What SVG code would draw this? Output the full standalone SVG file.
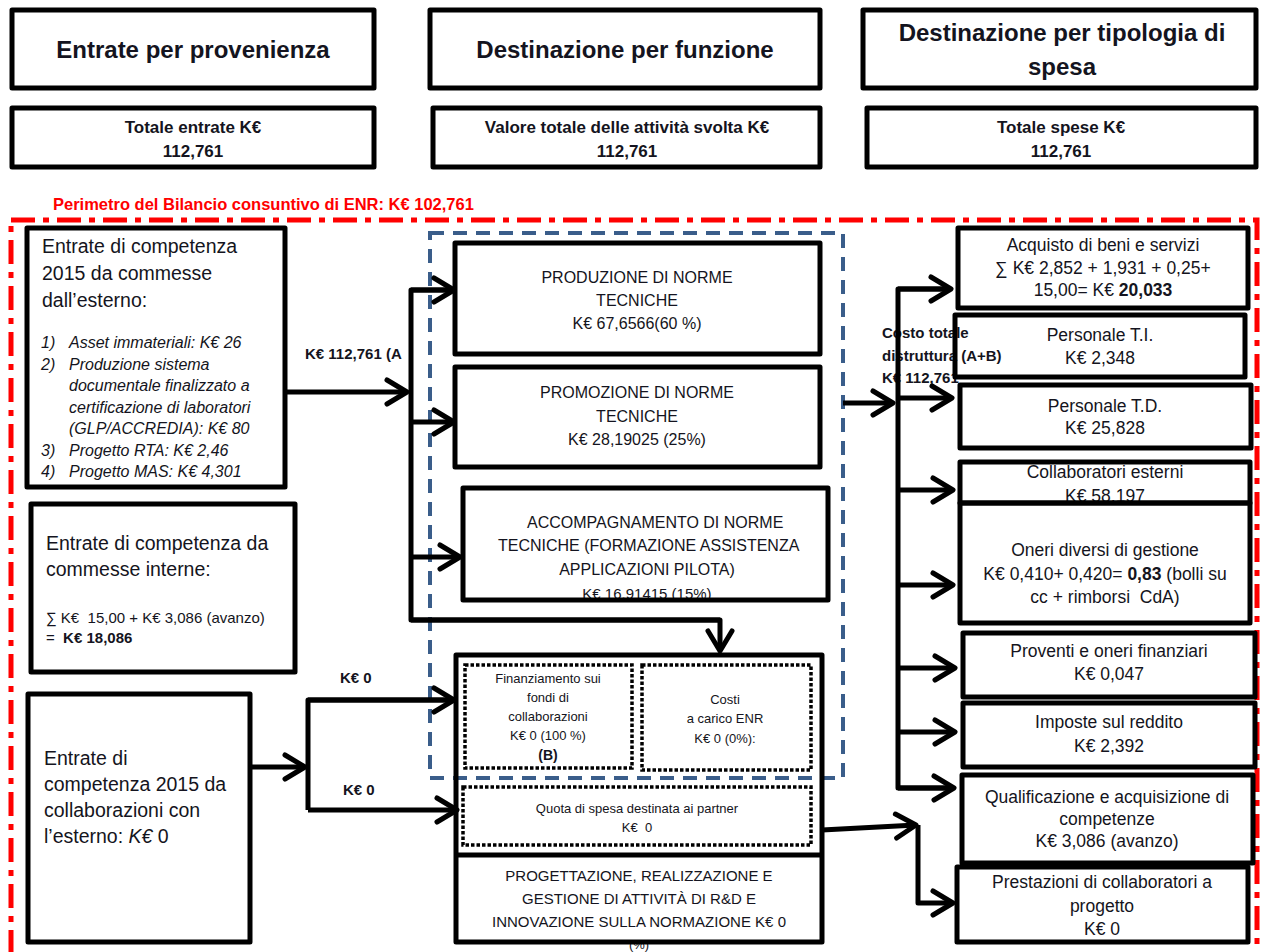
<svg xmlns="http://www.w3.org/2000/svg" width="1261" height="952" viewBox="0 0 1261 952">
<defs>
<style>
.t{font-family:"Liberation Sans",Arial,sans-serif;fill:#141420}
.c{text-anchor:middle}
.b{font-weight:bold}
.i{font-style:italic}
.box{fill:none;stroke:#000;stroke-width:5;stroke-linejoin:round}
.dot{fill:none;stroke:#000;stroke-width:3.5;stroke-dasharray:3.5 2}
.ln{fill:none;stroke:#000;stroke-width:5;stroke-linejoin:round}
.ar{fill:none;stroke:#000;stroke-width:5;stroke-linejoin:round;marker-end:url(#ah)}
.h1{font-size:24px}
.h2{font-size:17px}
.lg{font-size:19.5px}
.li{font-size:16px}
.m{font-size:16px}
.r{font-size:17.5px}
.lb{font-size:15px}
</style>
<marker id="ah" markerUnits="userSpaceOnUse" markerWidth="30" markerHeight="34" viewBox="-26 -17 30 34" refX="0" refY="0" orient="auto">
<path d="M-20,-12 L0,0 L-20,12" fill="none" stroke="#000" stroke-width="5" stroke-linecap="round" stroke-linejoin="round"/>
</marker>
</defs>
<rect width="1261" height="952" fill="#fff"/>

<g id="header-provenienza">
<rect class="box" x="12" y="10" width="362" height="78"/>
<text class="t b c h1" x="193" y="58">Entrate per provenienza</text>
</g>
<g id="header-funzione">
<rect class="box" x="430" y="10" width="390" height="78"/>
<text class="t b c h1" x="625" y="58">Destinazione per funzione</text>
</g>
<g id="header-tipologia">
<rect class="box" x="863" y="10" width="393" height="78"/>
<text class="t b c h1" x="1062" y="41">Destinazione per tipologia di</text>
<text class="t b c h1" x="1062" y="75">spesa</text>
</g>
<g id="tot-entrate">
<rect class="box" x="12" y="108" width="362" height="59"/>
<text class="t b c h2" x="193" y="133">Totale entrate K€</text>
<text class="t b c h2" x="193" y="157">112,761</text>
</g>
<g id="tot-attivita">
<rect class="box" x="433" y="108" width="387" height="59"/>
<text class="t b c h2" x="627" y="133">Valore totale delle attività svolta K€</text>
<text class="t b c h2" x="627" y="157">112,761</text>
</g>
<g id="tot-spese">
<rect class="box" x="867" y="108" width="389" height="59"/>
<text class="t b c h2" x="1061" y="133">Totale spese K€</text>
<text class="t b c h2" x="1061" y="157">112,761</text>
</g>

<g id="perimetro">
<text class="t b" x="53" y="210" style="font-size:16.5px;fill:#ff0000">Perimetro del Bilancio consuntivo di ENR: K€ 102,761</text>
<rect x="11" y="220" width="1246" height="800" fill="none" stroke="#ff0000" stroke-width="5" stroke-dasharray="24 8 6 8"/>
</g>

<g id="area-funzioni">
<rect x="430" y="233" width="413" height="545" fill="none" stroke="#3a5d8a" stroke-width="4" stroke-dasharray="14 9"/>
</g>

<g id="connectors">
<text class="t b lb" x="305" y="359">K€ 112,761 (A</text>
<text class="t b lb" x="340" y="683">K€ 0</text>
<text class="t b lb" x="343" y="795">K€ 0</text>
<text class="t b lb" x="882" y="338">Costo totale</text>
<text class="t b lb" x="882" y="361">distruttura (A+B)</text>
<text class="t b lb" x="882" y="383">K€ 112,761</text>
<path class="ar" d="M285,392 L407,392"/>
<path class="ln" d="M455,290 L411,290 L411,620 L720,620"/>
<path class="ar" d="M411,290 L454,290"/>
<path class="ar" d="M411,422 L454,422"/>
<path class="ar" d="M411,557 L460,557"/>
<path class="ar" d="M411,620 L720,620 L720,651"/>
<path class="ar" d="M250,767 L305,767"/>
<path class="ln" d="M455,700 L308,700 L308,810"/>
<path class="ar" d="M308,700 L454,700"/>
<path class="ar" d="M308,810 L457,810"/>
<path class="ar" d="M843,403 L893,403"/>
<path class="ln" d="M951,289 L898,289 L898,788 L951,788"/>
<path class="ar" d="M898,289 L951,289"/>
<path class="ar" d="M898,398 L952,398"/>
<path class="ar" d="M898,490 L953,490"/>
<path class="ar" d="M898,585 L953,585"/>
<path class="ar" d="M898,668 L955,668"/>
<path class="ar" d="M898,732 L955,732"/>
<path class="ar" d="M898,788 L954,788"/>
<path class="ar" d="M822,830 L916,825"/>
<path class="ar" d="M918,825 L918,903 L953,903"/>
</g>

<g id="entrate-esterno">
<text class="t lg" x="42" y="253">Entrate di competenza</text>
<text class="t lg" x="42" y="280">2015 da commesse</text>
<text class="t lg" x="42" y="307">dall’esterno:</text>
<text class="t i li" x="41" y="348">1)</text>
<text class="t i li" x="69" y="348">Asset immateriali: K€ 26</text>
<text class="t i li" x="41" y="370">2)</text>
<text class="t i li" x="69" y="370">Produzione sistema</text>
<text class="t i li" x="69" y="391">documentale finalizzato a</text>
<text class="t i li" x="69" y="413">certificazione di laboratori</text>
<text class="t i li" x="69" y="434">(GLP/ACCREDIA): K€ 80</text>
<text class="t i li" x="41" y="456">3)</text>
<text class="t i li" x="69" y="456">Progetto RTA: K€ 2,46</text>
<text class="t i li" x="41" y="477">4)</text>
<text class="t i li" x="69" y="477">Progetto MAS: K€ 4,301</text>
<rect class="box" x="27" y="228" width="258" height="259"/>
</g>

<g id="entrate-interne">
<rect class="box" x="31" y="504" width="264" height="168"/>
<text class="t lg" x="46" y="550">Entrate di competenza da</text>
<text class="t lg" x="46" y="576">commesse interne:</text>
<text class="t lb" x="46" y="623" xml:space="preserve">∑ K€  15,00 + K€ 3,086 (avanzo)</text>
<text class="t lb" x="46" y="643" xml:space="preserve">=  <tspan class="b">K€ 18,086</tspan></text>
</g>

<g id="entrate-collaborazioni">
<rect class="box" x="28" y="694" width="222" height="248"/>
<text class="t lg" x="44" y="765">Entrate di</text>
<text class="t lg" x="44" y="791">competenza 2015 da</text>
<text class="t lg" x="44" y="817">collaborazioni con</text>
<text class="t lg" x="44" y="843">l’esterno: <tspan class="i">K€</tspan> 0</text>
</g>

<g id="produzione">
<rect class="box" x="455" y="243" width="365" height="111"/>
<text class="t c m" x="637" y="283">PRODUZIONE DI NORME</text>
<text class="t c m" x="637" y="306">TECNICHE</text>
<text class="t c m" x="637" y="329">K€ 67,6566(60 %)</text>
</g>

<g id="promozione">
<rect class="box" x="455" y="367" width="365" height="100"/>
<text class="t c m" x="637" y="398">PROMOZIONE DI NORME</text>
<text class="t c m" x="637" y="422">TECNICHE</text>
<text class="t c m" x="637" y="445">K€ 28,19025 (25%)</text>
</g>

<g id="accompagnamento">
<text class="t m" x="527" y="528">ACCOMPAGNAMENTO DI NORME</text>
<text class="t m" x="498" y="551">TECNICHE (FORMAZIONE ASSISTENZA</text>
<text class="t c m" x="647" y="575">APPLICAZIONI PILOTA)</text>
<text class="t c" x="647" y="599" style="font-size:15px">K€ 16,91415 (15%)</text>
<rect class="box" x="463" y="488" width="365" height="112"/>
</g>

<g id="progettazione">
<text class="t c" x="639" y="949" style="font-size:13px">(%)</text>
<rect x="456" y="655" width="366" height="287" fill="none" stroke="#000" stroke-width="5" stroke-linejoin="round"/>
<line x1="456" y1="855" x2="822" y2="855" stroke="#000" stroke-width="5"/>
<text class="t c" x="639" y="881" style="font-size:15px">PROGETTAZIONE, REALIZZAZIONE E</text>
<text class="t c" x="639" y="904" style="font-size:15px">GESTIONE DI ATTIVITÀ DI R&amp;D E</text>
<text class="t c" x="639" y="927" style="font-size:15px">INNOVAZIONE SULLA NORMAZIONE K€ 0</text>
</g>

<g id="finanziamento">
<rect class="dot" x="465" y="665" width="167" height="103"/>
<text class="t c" x="548" y="683" style="font-size:13px">Finanziamento sui</text>
<text class="t c" x="548" y="702" style="font-size:13px">fondi di</text>
<text class="t c" x="548" y="721" style="font-size:13px">collaborazioni</text>
<text class="t c" x="548" y="740" style="font-size:13px">K€ 0 (100 %)</text>
<text class="t c b" x="548" y="760" style="font-size:14px">(B)</text>
</g>

<g id="costi-enr">
<rect class="dot" x="642" y="665" width="169" height="105"/>
<text class="t c" x="725" y="704" style="font-size:13px">Costi</text>
<text class="t c" x="725" y="723" style="font-size:13px">a carico ENR</text>
<text class="t c" x="725" y="743" style="font-size:13px">K€ 0 (0%):</text>
</g>

<g id="quota-partner">
<rect class="dot" x="463" y="787" width="348" height="58"/>
<text class="t c" x="637" y="813" style="font-size:13px">Quota di spesa destinata ai partner</text>
<text class="t c" x="637" y="832" style="font-size:13px" xml:space="preserve">K€  0</text>
</g>

<g id="acquisto">
<rect class="box" x="958" y="228" width="290" height="80"/>
<text class="t c r" x="1103" y="251">Acquisto di beni e servizi</text>
<text class="t c r" x="1103" y="274">∑ K€ 2,852 + 1,931 + 0,25+</text>
<text class="t c r" x="1103" y="296">15,00= K€ <tspan class="b">20,033</tspan></text>
</g>

<g id="personale-ti">
<rect class="box" x="955" y="315" width="290" height="62"/>
<text class="t c r" x="1100" y="341">Personale T.I.</text>
<text class="t c r" x="1100" y="364">K€ 2,348</text>
</g>

<g id="personale-td">
<rect class="box" x="960" y="385" width="291" height="63"/>
<text class="t c r" x="1105" y="412">Personale T.D.</text>
<text class="t c r" x="1105" y="434">K€ 25,828</text>
</g>

<g id="collaboratori">
<text class="t c r" x="1105" y="478">Collaboratori esterni</text>
<text class="t c r" x="1105" y="502">K€ 58,197</text>
<rect class="box" x="960" y="462" width="290" height="41"/>
</g>

<g id="oneri">
<rect class="box" x="960" y="503" width="290" height="120"/>
<text class="t c r" x="1105" y="556">Oneri diversi di gestione</text>
<text class="t c r" x="1105" y="580">K€ 0,410+ 0,420= <tspan class="b">0,83</tspan> (bolli su</text>
<text class="t c r" x="1105" y="603" xml:space="preserve">cc + rimborsi  CdA)</text>
</g>

<g id="proventi">
<rect class="box" x="963" y="633" width="292" height="64"/>
<text class="t c r" x="1109" y="657">Proventi e oneri finanziari</text>
<text class="t c r" x="1109" y="680">K€ 0,047</text>
</g>

<g id="imposte">
<rect class="box" x="963" y="703" width="292" height="64"/>
<text class="t c r" x="1109" y="728">Imposte sul reddito</text>
<text class="t c r" x="1109" y="752">K€ 2,392</text>
</g>

<g id="qualificazione">
<rect class="box" x="962" y="775" width="291" height="88"/>
<text class="t c r" x="1107" y="803">Qualificazione e acquisizione di</text>
<text class="t c r" x="1107" y="825">competenze</text>
<text class="t c r" x="1107" y="847">K€ 3,086 (avanzo)</text>
</g>

<g id="prestazioni">
<rect class="box" x="957" y="867" width="291" height="75"/>
<text class="t c r" x="1102" y="888">Prestazioni di collaboratori a</text>
<text class="t c r" x="1102" y="912">progetto</text>
<text class="t c r" x="1102" y="935">K€ 0</text>
</g>
</svg>
